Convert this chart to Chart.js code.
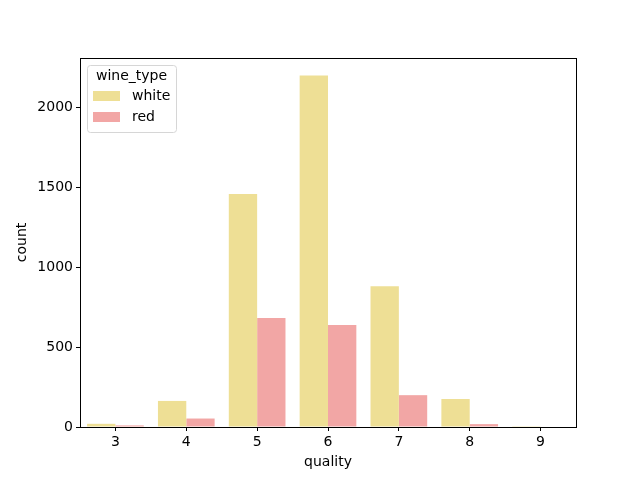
<!DOCTYPE html>
<html>
<head>
<meta charset="utf-8">
<script src="https://cdn.jsdelivr.net/npm/chart.js@4/dist/chart.umd.min.js"></script>
<style>
html,body{margin:0;padding:0;background:#fff;}
#wrap{width:640px;height:480px;position:relative;}
</style>
</head>
<body>
<div id="wrap"><canvas id="grafico" width="640" height="480"></canvas></div>
<script>
// dados
const qualidades=['3','4','5','6','7','8','9'];
const contagemBranco=[20,163,1457,2198,880,175,5];
const contagemTinto=[10,53,681,638,199,18,0];
const ticksY=[0,500,1000,1500,2000];

const corBranco='#eedf95', corTinto='#f2a6a5';
const fonte='"DejaVu Sans", sans-serif';

// moldura completa (estilo matplotlib)
const moldura={
  id:'moldura',
  afterDraw(chart){
    const {ctx,chartArea:a}=chart;
    ctx.save(); ctx.strokeStyle='#000'; ctx.lineWidth=1;
    ctx.strokeRect(Math.round(a.left)+0.5,Math.round(a.top)+0.5,Math.round(a.right-a.left),Math.round(a.bottom-a.top));
    ctx.restore();
  }
};

// legenda desenhada à mão, canto superior esquerdo
const legenda={
  id:'legenda',
  afterDraw(chart){
    const ctx=chart.ctx, a=chart.chartArea;
    const x=a.left+7, y=a.top+7, w=89, h=67;
    ctx.save();
    ctx.fillStyle='rgba(255,255,255,0.8)';
    ctx.strokeStyle='#d6d6d6'; ctx.lineWidth=1;
    ctx.beginPath(); ctx.roundRect(x+0.5,y+0.5,w,h,3); ctx.fill(); ctx.stroke();
    ctx.font='14px '+fonte; ctx.fillStyle='#000'; ctx.textBaseline='middle';
    ctx.textAlign='center'; ctx.fillText('wine_type',x+w/2,y+11);
    ctx.textAlign='left';
    chart.data.datasets.forEach((ds,i)=>{
      const yy=y+31+i*21;
      ctx.fillStyle=ds.backgroundColor; ctx.fillRect(x+6,yy-5,27,10);
      ctx.fillStyle='#000'; ctx.fillText(ds.label,x+45,yy);
    });
    ctx.restore();
  }
};

new Chart(document.getElementById('grafico'),{
  type:'bar',
  data:{
    labels:qualidades,
    datasets:[
      {label:'white',data:contagemBranco,backgroundColor:corBranco},
      {label:'red',data:contagemTinto,backgroundColor:corTinto}
    ]
  },
  options:{
    responsive:false,
    animation:false,
    layout:{padding:{left:0,right:64,top:58,bottom:0}},
    datasets:{bar:{categoryPercentage:0.8,barPercentage:1.0}},
    plugins:{legend:{display:false},tooltip:{enabled:false}},
    scales:{
      x:{
        offset:true,
        grid:{display:true,drawOnChartArea:false,drawTicks:true,tickLength:4,color:'#000',offset:false},
        border:{display:false},
        ticks:{color:'#000',font:{family:fonte,size:14},padding:3},
        title:{display:true,text:'quality',color:'#000',font:{family:fonte,size:14},padding:{top:2,bottom:9}},
        afterFit(s){s.height=53;}
      },
      y:{
        min:0,max:2307,
        afterBuildTicks(s){s.ticks=ticksY.map(v=>({value:v}));},
        grid:{display:true,drawOnChartArea:false,drawTicks:true,tickLength:4,color:'#000'},
        border:{display:false},
        ticks:{color:'#000',font:{family:fonte,size:14},padding:3,callback:v=>String(v)},
        title:{display:true,text:'count',color:'#000',font:{family:fonte,size:14},padding:{top:14,bottom:4}},
        afterFit(s){s.width=80;}
      }
    }
  },
  plugins:[moldura,legenda]
});
</script>
</body>
</html>
